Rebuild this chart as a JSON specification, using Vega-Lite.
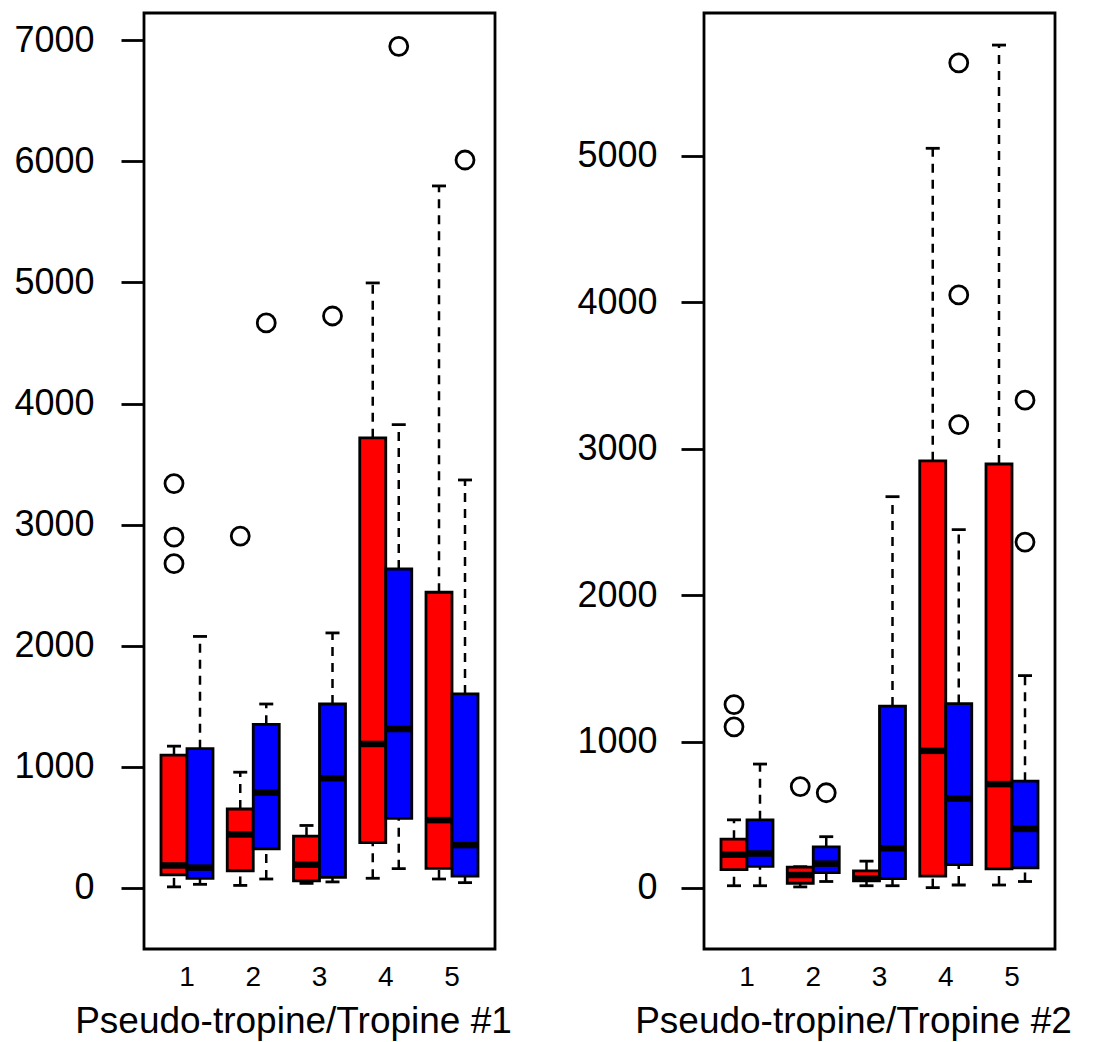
{
  "$schema": "https://vega.github.io/schema/vega-lite/v6.json",
  "background": "white",
  "padding": {"left": 12, "top": 11, "right": 5, "bottom": 0},
  "spacing": 62,
  "config": {
    "view": {"stroke": "black", "strokeWidth": 2.8, "fill": "white"},
    "font": "Liberation Sans",
    "axis": {"labelColor": "black", "titleColor": "black", "tickColor": "black", "grid": false, "labelFont": "Liberation Sans", "titleFont": "Liberation Sans", "titleFontWeight": "normal"}
  },
  "datasets": {
    "stats1": [
      {"group": 1, "series": "s1", "lo": 9, "q1": 109, "med": 186, "q3": 1097, "hi": 1171},
      {"group": 1, "series": "s2", "lo": 30, "q1": 80, "med": 168, "q3": 1150, "hi": 2077},
      {"group": 2, "series": "s1", "lo": 21, "q1": 142, "med": 442, "q3": 652, "hi": 956},
      {"group": 2, "series": "s2", "lo": 74, "q1": 324, "med": 788, "q3": 1351, "hi": 1519},
      {"group": 3, "series": "s1", "lo": 38, "q1": 59, "med": 192, "q3": 428, "hi": 516},
      {"group": 3, "series": "s2", "lo": 50, "q1": 88, "med": 906, "q3": 1519, "hi": 2106},
      {"group": 4, "series": "s1", "lo": 80, "q1": 375, "med": 1189, "q3": 3717, "hi": 4996},
      {"group": 4, "series": "s2", "lo": 159, "q1": 575, "med": 1313, "q3": 2634, "hi": 3826},
      {"group": 5, "series": "s1", "lo": 74, "q1": 162, "med": 560, "q3": 2442, "hi": 5797},
      {"group": 5, "series": "s2", "lo": 44, "q1": 97, "med": 354, "q3": 1602, "hi": 3369}
    ],
    "out1": [
      {"group": 1, "series": "s1", "value": 3339},
      {"group": 1, "series": "s1", "value": 2897},
      {"group": 1, "series": "s1", "value": 2678},
      {"group": 2, "series": "s1", "value": 2906},
      {"group": 2, "series": "s2", "value": 4666},
      {"group": 3, "series": "s2", "value": 4723},
      {"group": 4, "series": "s2", "value": 6950},
      {"group": 5, "series": "s2", "value": 6011}
    ],
    "stats2": [
      {"group": 1, "series": "s1", "lo": 15, "q1": 125, "med": 227, "q3": 333, "hi": 465},
      {"group": 1, "series": "s2", "lo": 15, "q1": 147, "med": 235, "q3": 465, "hi": 846},
      {"group": 2, "series": "s1", "lo": 7, "q1": 32, "med": 88, "q3": 142, "hi": 145},
      {"group": 2, "series": "s2", "lo": 44, "q1": 105, "med": 166, "q3": 281, "hi": 350},
      {"group": 3, "series": "s1", "lo": 15, "q1": 49, "med": 64, "q3": 117, "hi": 183},
      {"group": 3, "series": "s2", "lo": 15, "q1": 64, "med": 271, "q3": 1242, "hi": 2672},
      {"group": 4, "series": "s1", "lo": 2, "q1": 81, "med": 936, "q3": 2917, "hi": 5051},
      {"group": 4, "series": "s2", "lo": 20, "q1": 159, "med": 611, "q3": 1259, "hi": 2447},
      {"group": 5, "series": "s1", "lo": 20, "q1": 130, "med": 709, "q3": 2895, "hi": 5756},
      {"group": 5, "series": "s2", "lo": 44, "q1": 137, "med": 403, "q3": 729, "hi": 1450}
    ],
    "out2": [
      {"group": 1, "series": "s1", "value": 1252},
      {"group": 1, "series": "s1", "value": 1100},
      {"group": 2, "series": "s1", "value": 692},
      {"group": 2, "series": "s2", "value": 650},
      {"group": 4, "series": "s2", "value": 5635},
      {"group": 4, "series": "s2", "value": 4050},
      {"group": 4, "series": "s2", "value": 3164},
      {"group": 5, "series": "s2", "value": 3331},
      {"group": 5, "series": "s2", "value": 2362}
    ]
  },
  "hconcat": [
    {
      "width": 351,
      "height": 936,
      "encoding": {
        "x": {"field": "group", "type": "ordinal", "title": "Pseudo-tropine/Tropine #1",
              "scale": {"paddingInner": 0.215, "paddingOuter": 0.2565},
              "axis": {"ticks": false, "tickSize": 0, "domain": false, "labelAngle": 0, "labelFontSize": 28, "labelPadding": 14, "titleFontSize": 37, "titlePadding": 12, "titleX": 149, "titleAlign": "center"}},
        "xOffset": {"field": "series", "type": "nominal", "scale": {"domain": ["s1", "s2"], "paddingInner": 0, "paddingOuter": 0}}
      },
      "layer": [
        {
          "data": {"name": "stats1"},
          "mark": {"type": "rule", "strokeDash": [9, 7], "strokeWidth": 2.5, "color": "black"},
          "encoding": {
            "y": {"field": "lo", "type": "quantitative", "title": null,
                  "scale": {"domain": [-504, 7225], "nice": false, "zero": false},
                  "axis": {"values": [0, 1000, 2000, 3000, 4000, 5000, 6000, 7000], "format": "d", "domain": false, "tickSize": 23, "tickWidth": 2.8, "labelFontSize": 36, "labelPadding": 27, "labelFlush": false, "labelOverlap": false}},
            "y2": {"field": "q1"}
          }
        },
        {
          "data": {"name": "stats1"},
          "mark": {"type": "rule", "strokeDash": [9, 7], "strokeWidth": 2.5, "color": "black"},
          "encoding": {"y": {"field": "q3", "type": "quantitative", "title": null}, "y2": {"field": "hi"}}
        },
        {
          "data": {"name": "stats1"},
          "mark": {"type": "tick", "orient": "horizontal", "size": 14, "thickness": 2.8, "color": "black", "opacity": 1},
          "encoding": {"y": {"field": "lo", "type": "quantitative", "title": null}}
        },
        {
          "data": {"name": "stats1"},
          "mark": {"type": "tick", "orient": "horizontal", "size": 14, "thickness": 2.8, "color": "black", "opacity": 1},
          "encoding": {"y": {"field": "hi", "type": "quantitative", "title": null}}
        },
        {
          "data": {"name": "stats1"},
          "mark": {"type": "bar", "stroke": "black", "strokeWidth": 2.8, "opacity": 1},
          "encoding": {
            "y": {"field": "q1", "type": "quantitative", "title": null},
            "y2": {"field": "q3"},
            "fill": {"field": "series", "type": "nominal", "scale": {"domain": ["s1", "s2"], "range": ["#ff0000", "#0000ff"]}, "legend": null}
          }
        },
        {
          "data": {"name": "stats1"},
          "mark": {"type": "tick", "orient": "horizontal", "size": 26, "thickness": 6.5, "color": "black", "opacity": 1},
          "encoding": {"y": {"field": "med", "type": "quantitative", "title": null}}
        },
        {
          "data": {"name": "out1"},
          "mark": {"type": "point", "shape": "circle", "filled": false, "size": 324, "strokeWidth": 2.8, "color": "black", "opacity": 1},
          "encoding": {"y": {"field": "value", "type": "quantitative", "title": null}}
        }
      ]
    },
    {
      "width": 351,
      "height": 936,
      "encoding": {
        "x": {"field": "group", "type": "ordinal", "title": "Pseudo-tropine/Tropine #2",
              "scale": {"paddingInner": 0.215, "paddingOuter": 0.2565},
              "axis": {"ticks": false, "tickSize": 0, "domain": false, "labelAngle": 0, "labelFontSize": 28, "labelPadding": 14, "titleFontSize": 37, "titlePadding": 12, "titleX": 149, "titleAlign": "center"}},
        "xOffset": {"field": "series", "type": "nominal", "scale": {"domain": ["s1", "s2"], "paddingInner": 0, "paddingOuter": 0}}
      },
      "layer": [
        {
          "data": {"name": "stats2"},
          "mark": {"type": "rule", "strokeDash": [9, 7], "strokeWidth": 2.5, "color": "black"},
          "encoding": {
            "y": {"field": "lo", "type": "quantitative", "title": null,
                  "scale": {"domain": [-417, 5975], "nice": false, "zero": false},
                  "axis": {"values": [0, 1000, 2000, 3000, 4000, 5000], "format": "d", "domain": false, "tickSize": 23, "tickWidth": 2.8, "labelFontSize": 36, "labelPadding": 24, "labelFlush": false, "labelOverlap": false}},
            "y2": {"field": "q1"}
          }
        },
        {
          "data": {"name": "stats2"},
          "mark": {"type": "rule", "strokeDash": [9, 7], "strokeWidth": 2.5, "color": "black"},
          "encoding": {"y": {"field": "q3", "type": "quantitative", "title": null}, "y2": {"field": "hi"}}
        },
        {
          "data": {"name": "stats2"},
          "mark": {"type": "tick", "orient": "horizontal", "size": 14, "thickness": 2.8, "color": "black", "opacity": 1},
          "encoding": {"y": {"field": "lo", "type": "quantitative", "title": null}}
        },
        {
          "data": {"name": "stats2"},
          "mark": {"type": "tick", "orient": "horizontal", "size": 14, "thickness": 2.8, "color": "black", "opacity": 1},
          "encoding": {"y": {"field": "hi", "type": "quantitative", "title": null}}
        },
        {
          "data": {"name": "stats2"},
          "mark": {"type": "bar", "stroke": "black", "strokeWidth": 2.8, "opacity": 1},
          "encoding": {
            "y": {"field": "q1", "type": "quantitative", "title": null},
            "y2": {"field": "q3"},
            "fill": {"field": "series", "type": "nominal", "scale": {"domain": ["s1", "s2"], "range": ["#ff0000", "#0000ff"]}, "legend": null}
          }
        },
        {
          "data": {"name": "stats2"},
          "mark": {"type": "tick", "orient": "horizontal", "size": 26, "thickness": 6.5, "color": "black", "opacity": 1},
          "encoding": {"y": {"field": "med", "type": "quantitative", "title": null}}
        },
        {
          "data": {"name": "out2"},
          "mark": {"type": "point", "shape": "circle", "filled": false, "size": 324, "strokeWidth": 2.8, "color": "black", "opacity": 1},
          "encoding": {"y": {"field": "value", "type": "quantitative", "title": null}}
        }
      ]
    }
  ]
}
